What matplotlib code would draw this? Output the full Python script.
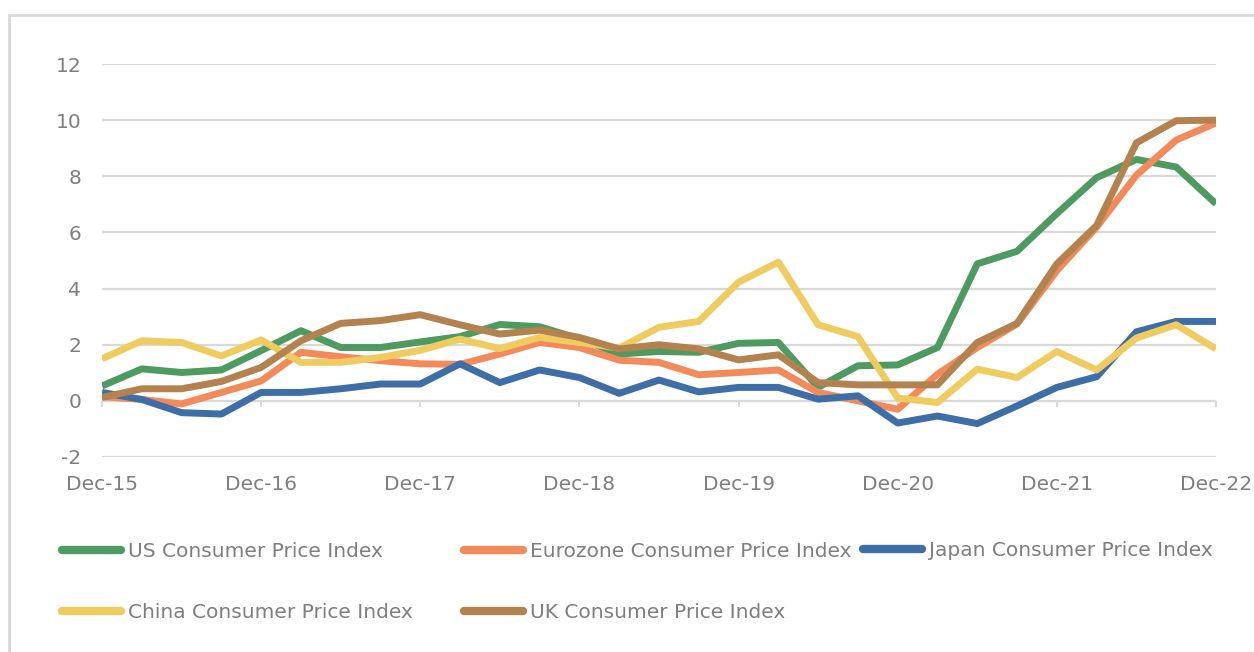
import numpy as np
import matplotlib
matplotlib.use('Agg')
from matplotlib import pyplot as plt
from matplotlib.lines import Line2D
from matplotlib.patches import Rectangle

# quarterly readings, Dec-15 .. Dec-22
quarters = np.arange(29)
year_labels = ['Dec-15', 'Dec-16', 'Dec-17', 'Dec-18', 'Dec-19', 'Dec-20', 'Dec-21', 'Dec-22']

us_cpi = [0.53, 1.14, 1.01, 1.10, 1.79, 2.50, 1.90, 1.90, 2.10, 2.29, 2.72, 2.64, 2.21, 1.67, 1.76,
          1.73, 2.05, 2.08, 0.48, 1.25, 1.28, 1.90, 4.88, 5.33, 6.67, 7.95, 8.60, 8.33, 7.02]
euro_cpi = [0.15, 0.05, -0.11, 0.30, 0.71, 1.73, 1.57, 1.43, 1.32, 1.30, 1.67, 2.08, 1.90, 1.45, 1.37,
            0.93, 1.01, 1.10, 0.30, 0.00, -0.30, 0.95, 1.90, 2.74, 4.64, 6.19, 8.04, 9.29, 9.90]
japan_cpi = [0.30, 0.05, -0.42, -0.47, 0.30, 0.30, 0.43, 0.60, 0.60, 1.32, 0.65, 1.10, 0.83, 0.27, 0.74,
             0.32, 0.48, 0.48, 0.06, 0.18, -0.79, -0.54, -0.81, -0.18, 0.48, 0.86, 2.46, 2.83, 2.83]
china_cpi = [1.50, 2.14, 2.08, 1.60, 2.17, 1.37, 1.37, 1.55, 1.80, 2.20, 1.86, 2.26, 2.08, 1.88, 2.62,
             2.83, 4.23, 4.94, 2.71, 2.29, 0.10, -0.06, 1.13, 0.83, 1.76, 1.10, 2.24, 2.71, 1.85]
uk_cpi = [0.12, 0.43, 0.43, 0.69, 1.19, 2.14, 2.76, 2.86, 3.07, 2.71, 2.38, 2.52, 2.26, 1.85, 2.00,
          1.85, 1.46, 1.64, 0.65, 0.57, 0.57, 0.57, 2.08, 2.76, 4.88, 6.25, 9.19, 9.98, 10.00]

series = [
    ('US Consumer Price Index', us_cpi, '#4e9b62'),
    ('Eurozone Consumer Price Index', euro_cpi, '#f4895a'),
    ('Japan Consumer Price Index', japan_cpi, '#3e6ea8'),
    ('China Consumer Price Index', china_cpi, '#f0cc60'),
    ('UK Consumer Price Index', uk_cpi, '#b4824e'),
]

text_col = '#7f7f7f'
grid_col = '#d9d9d9'
plt.rcParams['font.family'] = ['DejaVu Sans']
plt.rcParams['axes.unicode_minus'] = False

fig = plt.figure(figsize=(12.54, 6.52), dpi=100)
fig.patches.append(Rectangle((9 / 1254, -0.1), 1.2, 0.1 + 1 - 15 / 652, transform=fig.transFigure,
                             fill=False, edgecolor=grid_col, linewidth=2))
ax = fig.add_axes([102 / 1254, 1 - 457 / 652, (1216 - 102) / 1254, (457 - 64) / 652])

for name, vals, col in series:
    ax.plot(quarters, vals, color=col, linewidth=5, solid_joinstyle='round',
            solid_capstyle='butt', zorder=3)

ax.set_xlim(0, 28)
ax.set_ylim(-2, 12)
ax.set_yticks(np.arange(-2, 13, 2))
ax.set_xticks(np.arange(0, 29, 4))
ax.set_xticklabels(year_labels)
ax.grid(axis='y', color=grid_col, linewidth=1.6)
ax.set_axisbelow(True)
for s in ax.spines.values():
    s.set_visible(False)
ax.tick_params(axis='y', length=0, pad=15, labelsize=14.5, labelcolor=text_col)
ax.tick_params(axis='x', length=0, pad=13, labelsize=14.5, labelcolor=text_col)

# tick marks sit on the zero line
sec = ax.secondary_xaxis(2 / 14)
sec.set_xticks(np.arange(0, 29, 4))
sec.tick_params(axis='x', length=4.5, width=1.5, color=grid_col, labelbottom=False)
sec.spines['bottom'].set_visible(False)

handles = {name: Line2D([], [], color=col, linewidth=6, solid_capstyle='round') for name, _, col in series}
columns = [
    (62, ['US Consumer Price Index', 'China Consumer Price Index'], (551 + 613) / 2),
    (464, ['Eurozone Consumer Price Index', 'UK Consumer Price Index'], (551 + 613) / 2),
    (863, ['Japan Consumer Price Index'], 551),
]
for x0, names, yc in columns:
    fig.legend([handles[n] for n in names], names, loc='center left',
               bbox_to_anchor=(x0 / 1254, 1 - yc / 652), frameon=False, borderpad=0,
               borderaxespad=0, handlelength=2.93, handletextpad=0.35, labelspacing=2.06,
               fontsize=14.5, labelcolor=text_col)

fig.savefig('out.png', dpi=100)
